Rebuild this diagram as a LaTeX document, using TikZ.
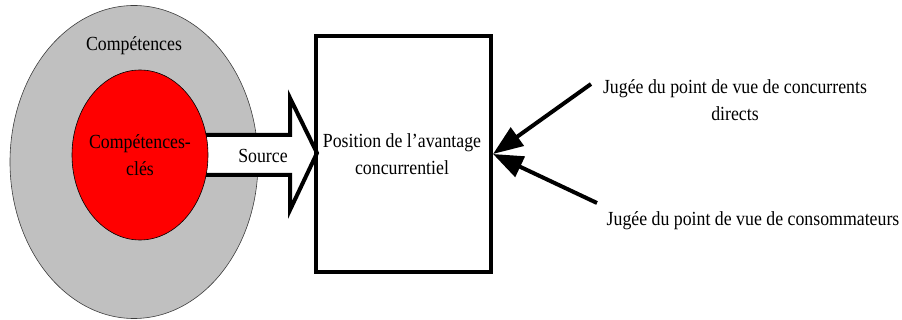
\documentclass[tikz,border=0pt]{standalone}
\usepackage{fontspec}
\newfontfamily\tnr[FakeStretch=0.89]{Liberation Serif}
\usetikzlibrary{shapes.geometric,arrows.meta}
\tikzset{
  lbl/.style={font=\tnr\fontsize{20}{27}\selectfont, align=center, inner sep=0pt},
  bigarrow/.style={line width=4pt, -{Triangle[length=30pt,width=22pt]}},
}
\begin{document}
\begin{tikzpicture}[x=1pt,y=-1pt]
\useasboundingbox (0,0) rectangle (902,320);
% outer ellipse
\node[ellipse, draw={rgb,255:red,60;green,60;blue,60}, line width=0.6pt, fill={rgb,255:red,192;green,192;blue,192},
      minimum width=248pt, minimum height=313pt, inner sep=0pt] (outer) at (134,162) {};
% block arrow
\draw[line width=4pt, fill=white, line join=miter]
  (200,135) coordinate (sa) -- (290,135) -- (290,98) -- (317,153) coordinate (stip) -- (290,210) -- (290,175) -- (200,175) -- cycle;
% inner ellipse
\node[ellipse, draw=black, line width=0.6pt, fill={rgb,255:red,255;green,0;blue,0},
      minimum width=136pt, minimum height=170pt, inner sep=0pt] (inner) at (140,155) {};
% box
\node[draw=black, line width=4pt, minimum width=175pt, minimum height=236pt, inner sep=0pt] (box) at (403.5,154) {};
% labels
\node[lbl] (tcomp) at (134,46) {Compétences};
\node[lbl] (tcle) at (140,155) {Compétences-\\clés};
\node[lbl] (tsrc) at (263,156) {Source};
\node[lbl] (tpos) at (402,154) {Position de l’avantage\\concurrentiel};
\node[lbl] (tdir) at (735,100) {Jugée du point de vue de concurrents\\directs};
\node[lbl] (tcons) at (753,221) {Jugée du point de vue de consommateurs};
% arrows
\coordinate (a1) at (591,84);
\coordinate (a2) at (597,203);
\draw[bigarrow] (a1) -- (box.east);
\draw[bigarrow] (a2) -- (box.east);
\end{tikzpicture}
\end{document}
